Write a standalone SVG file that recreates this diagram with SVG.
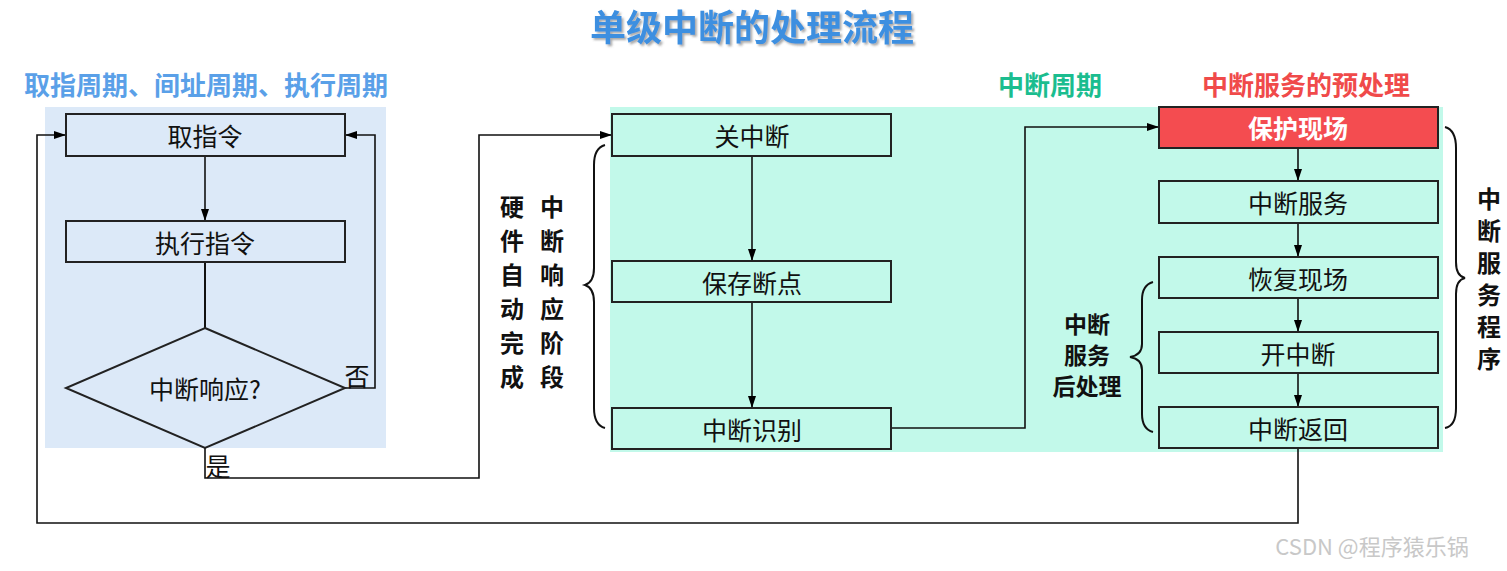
<svg xmlns="http://www.w3.org/2000/svg" width="1507" height="571" viewBox="0 0 1507 571">
<defs>
<marker id="ah" markerWidth="12" markerHeight="8" refX="12" refY="4" orient="auto" markerUnits="userSpaceOnUse"><path d="M0,0 L12,4 L0,8 Z" fill="#000"/></marker>
<filter id="sh"><feDropShadow dx="2" dy="2" stdDeviation="1" flood-color="#555" flood-opacity="0.5"/></filter>
</defs>
<style>
text{font-family:"Noto Sans CJK SC","Liberation Sans",sans-serif;text-anchor:middle;dominant-baseline:central}
.box{fill:none;stroke:#222;stroke-width:2}
.t{font-size:25px;fill:#111}
.b{font-size:24px;font-weight:bold;fill:#111}
.ln{fill:none;stroke:#111;stroke-width:2}
.ar{fill:none;stroke:#111;stroke-width:1.6;marker-end:url(#ah)}
.br{fill:none;stroke:#111;stroke-width:2}
</style>
<rect width="1507" height="571" fill="#fff"/>
<text x="752" y="25" font-size="36" font-weight="bold" fill="#3d8fe0" filter="url(#sh)">单级中断的处理流程</text>
<text x="206" y="83" font-size="26" font-weight="bold" fill="#5aa0e8">取指周期、间址周期、执行周期</text>
<text x="1050" y="83" font-size="26" font-weight="bold" fill="#1bbd8f">中断周期</text>
<text x="1306" y="83" font-size="26" font-weight="bold" fill="#f04a4a">中断服务的预处理</text>
<rect x="45" y="107" width="341" height="341" fill="#dce9f8"/>
<rect x="610" y="107" width="833" height="345" fill="#c2f9ea"/>
<g id="connectors">
<path class="ar" d="M205,156 V221"/>
<path class="ln" d="M205,262 V328"/>
<path class="ar" d="M345,388 H375 V135 H345"/>
<path class="ar" d="M205,448 V478 H479 V135 H612"/>
<path class="ar" d="M752,156 V261"/>
<path class="ar" d="M752,302 V408"/>
<path class="ar" d="M891,428 H1025 V127 H1159"/>
<path class="ar" d="M1298,148 V181"/>
<path class="ar" d="M1298,223 V257"/>
<path class="ar" d="M1298,298 V332"/>
<path class="ar" d="M1298,373 V407"/>
<path class="ar" d="M1298,448 V523 H37 V135 H66"/>
</g>
<text x="357" y="375" class="t" font-size="21">否</text>
<text x="218" y="465" class="t" font-size="21">是</text>
<g id="n1"><rect class="box" x="66" y="114" width="279" height="42"/><text class="t" x="205" y="135">取指令</text></g>
<g id="n2"><rect class="box" x="66" y="221" width="279" height="41"/><text class="t" x="205" y="242">执行指令</text></g>
<g id="n3"><path class="box" d="M205,328 L345,388 L205,448 L66,388 Z"/><text class="t" x="205" y="388" font-size="24">中断响应?</text></g>
<g id="n4"><rect class="box" x="612" y="114" width="279" height="42"/><text class="t" x="752" y="135">关中断</text></g>
<g id="n5"><rect class="box" x="612" y="261" width="279" height="41"/><text class="t" x="752" y="282">保存断点</text></g>
<g id="n6"><rect class="box" x="612" y="408" width="279" height="41"/><text class="t" x="752" y="429">中断识别</text></g>
<g id="n7"><rect x="1159" y="107" width="279" height="41" fill="#f44c50" stroke="#222" stroke-width="2"/><text x="1298" y="127" font-size="25" font-weight="bold" fill="#fff">保护现场</text></g>
<g id="n8"><rect class="box" x="1159" y="181" width="279" height="42"/><text class="t" x="1298" y="202">中断服务</text></g>
<g id="n9"><rect class="box" x="1159" y="257" width="279" height="41"/><text class="t" x="1298" y="278">恢复现场</text></g>
<g id="n10"><rect class="box" x="1159" y="332" width="279" height="41"/><text class="t" x="1298" y="353">开中断</text></g>
<g id="n11"><rect class="box" x="1159" y="407" width="279" height="41"/><text class="t" x="1298" y="428">中断返回</text></g>
<path class="br" d="M605,145 Q594,148 594,165 V268 Q594,282 585,285 Q594,288 594,302 V408 Q594,425 605,428"/>
<path class="br" d="M1153,282 Q1142,285 1142,300 V344 Q1142,355 1130,357 Q1142,359 1142,370 V414 Q1142,429 1153,432"/>
<path class="br" d="M1445,127 Q1456,130 1456,148 V262 Q1456,276 1465,278 Q1456,280 1456,294 V408 Q1456,426 1445,428"/>
<g class="b">
<text x="512" y="205">硬</text><text x="512" y="239">件</text><text x="512" y="273">自</text><text x="512" y="307">动</text><text x="512" y="341">完</text><text x="512" y="375">成</text>
<text x="552" y="205">中</text><text x="552" y="239">断</text><text x="552" y="273">响</text><text x="552" y="307">应</text><text x="552" y="341">阶</text><text x="552" y="375">段</text>
<text x="1087" y="323" font-size="23">中断</text><text x="1087" y="354" font-size="23">服务</text><text x="1087" y="385" font-size="23">后处理</text>
<text x="1489" y="197">中</text><text x="1489" y="229">断</text><text x="1489" y="261">服</text><text x="1489" y="293">务</text><text x="1489" y="325">程</text><text x="1489" y="357">序</text>
</g>
<text x="1372" y="545" font-size="22" fill="#c8c8c8">CSDN @程序猿乐锅</text>
</svg>
